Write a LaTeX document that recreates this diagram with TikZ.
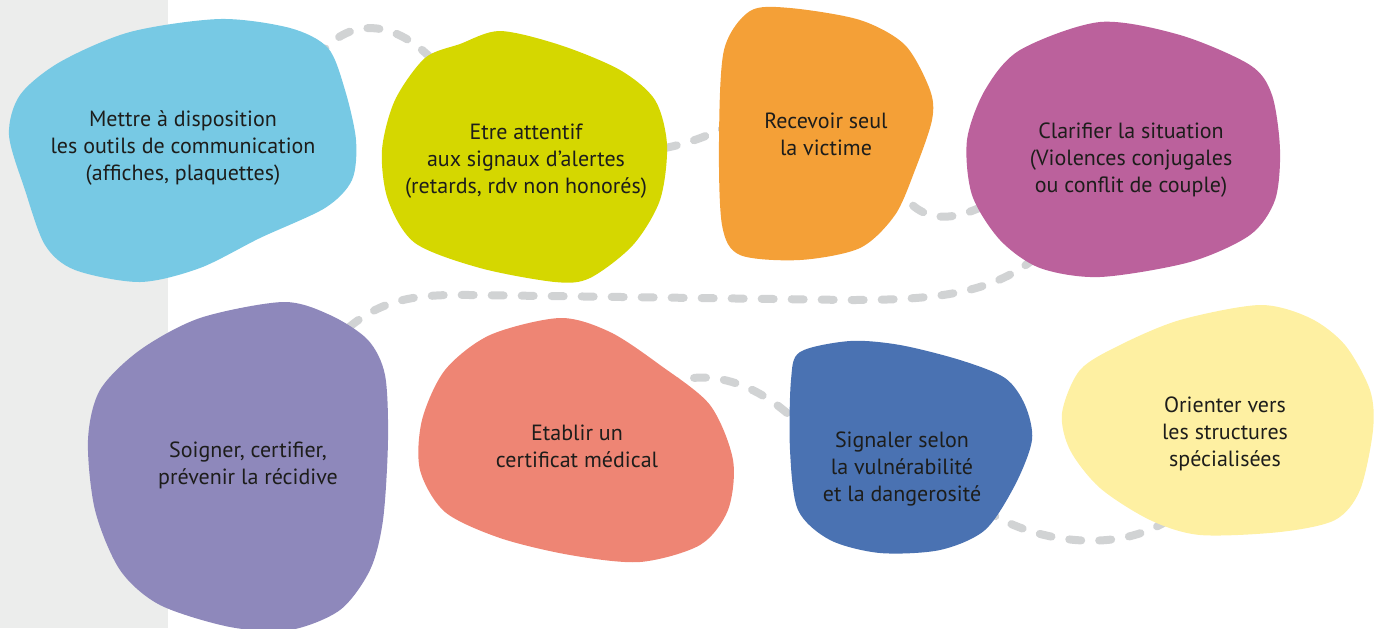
\documentclass[tikz,border=0pt]{standalone}
\usepackage{fontspec}
\setmainfont{PT Sans}
\usepackage{tikz}
\usepackage{xcolor}

\definecolor{stripgrey}{HTML}{ECEDEC}
\definecolor{dashgrey}{HTML}{D1D3D4}
\definecolor{txt}{HTML}{1D1D1B}
\definecolor{skyblue}{HTML}{77C9E4}
\definecolor{lime}{HTML}{D5D700}
\definecolor{orangeb}{HTML}{F4A037}
\definecolor{magentab}{HTML}{BB619C}
\definecolor{lavender}{HTML}{8E88BB}
\definecolor{salmon}{HTML}{EE8574}
\definecolor{royal}{HTML}{4A72B2}
\definecolor{paleyellow}{HTML}{FEF0A2}

\begin{document}
\begin{tikzpicture}[x=0.5pt,y=-0.5pt,
				link/.style={draw=dashgrey,line width=4pt,line cap=round,dash pattern=on 6pt off 9pt},
				blob/.style={fill=#1,draw=none},
				main node/.style={align=center,text=txt,font=\fontsize{11}{13.5}\selectfont}]
				
				\useasboundingbox (0,0) rectangle (1384,628);
				\fill[stripgrey] (0,0) rectangle (168,628);
				
				% ends of the dashed links
				\coordinate (l1a) at (318,58);
				\coordinate (l1b) at (440,68);
				\coordinate (l2a) at (665,148);
				\coordinate (l2b) at (730,125);
				\coordinate (l3a) at (895,182);
				\coordinate (l3b) at (995,200);
				\coordinate (l4a) at (1035,258);
				\coordinate (l4b) at (335,340);
				\coordinate (l5a) at (665,385);
				\coordinate (l5b) at (800,425);
				\coordinate (l6a) at (985,510);
				\coordinate (l6b) at (1165,522);
				
				\path[link] (l1a) .. controls (345,18) and (395,15) .. (l1b);
				\path[link] (l2a) .. controls (690,143) and (710,135) .. (l2b);
				\path[link] (l3a) .. controls (915,220) and (945,228) .. (l3b);
				\path[link] (l4a) .. controls (990,295) and (930,300) .. (850,300)
				-- (470,295) .. controls (410,294) and (375,300) .. (l4b);
				\path[link] (l5a) .. controls (700,370) and (750,375) .. (l5b);
				\path[link] (l6a) .. controls (1030,540) and (1110,555) .. (l6b);
				
				% blobs
				\path[blob=skyblue] plot[smooth cycle] coordinates {(220,19) (290,28) (328,48) (345,90) (356,140) (352,180) (325,208) (260,238) (200,268) (140,282) (75,270) (45,245) (25,190) (9,135) (20,95) (60,62) (130,32)};
				\path[blob=lime] plot[smooth cycle] coordinates {(500,31) (560,45) (620,70) (655,100) (667,145) (660,200) (633,245) (590,278) (555,282) (480,268) (415,243) (388,200) (382,150) (395,100) (425,58) (460,44)};
				\path[blob=orangeb] plot[smooth cycle] coordinates {(750,11) (790,8) (860,20) (905,45) (930,90) (932,120) (915,170) (895,215) (860,248) (800,260) (740,255) (722,225) (719,140) (724,50)};
				\path[blob=magentab] plot[smooth cycle] coordinates {(1100,22) (1180,35) (1250,65) (1272,95) (1280,150) (1275,200) (1250,235) (1190,262) (1100,277) (1040,268) (1000,240) (972,195) (967,140) (985,90) (1020,50)};
				\path[blob=lavender] plot[smooth cycle] coordinates {(283,302) (330,315) (368,340) (385,375) (388,440) (383,520) (370,570) (340,610) (290,630) (230,627) (160,605) (120,570) (95,510) (88,440) (100,390) (140,350) (200,318)};
				\path[blob=salmon] plot[smooth cycle] coordinates {(560,318) (610,332) (660,365) (710,405) (733,460) (728,510) (700,545) (640,562) (570,555) (500,538) (445,512) (420,470) (422,420) (445,370) (490,335)};
				\path[blob=royal] plot[smooth cycle] coordinates {(800,352) (850,341) (900,345) (960,360) (1005,378) (1025,405) (1032,440) (1015,485) (985,530) (940,550) (880,553) (830,540) (798,510) (790,450) (791,380)};
				\path[blob=paleyellow] plot[smooth cycle] coordinates {(1260,305) (1310,318) (1345,345) (1370,390) (1373,430) (1360,490) (1335,520) (1280,532) (1200,535) (1150,520) (1100,488) (1070,450) (1062,413) (1080,370) (1120,345) (1180,320)};
				
				% texts
				\node[main node] (outils) at (183,148) {Mettre à disposition\\les outils de communication\\(affiches, plaquettes)};
				\node[main node] (alertes) at (526,161) {Etre attentif\\aux signaux d’alertes\\(retards, rdv non honorés)};
				\node[main node] (recevoir) at (826,134) {Recevoir seul\\la victime};
				\node[main node] (clarifier) at (1131,160) {Clarifier la situation\\(Violences conjugales\\ou conflit de couple)};
				\node[main node] (soigner) at (248,465) {Soigner, certifier,\\prévenir la récidive};
				\node[main node] (certificat) at (577,446) {Etablir un\\certificat médical};
				\node[main node] (signaler) at (902,469) {Signaler selon\\la vulnérabilité\\et la dangerosité};
				\node[main node] (orienter) at (1225,434) {Orienter vers\\les structures\\spécialisées};
\end{tikzpicture}
\end{document}
